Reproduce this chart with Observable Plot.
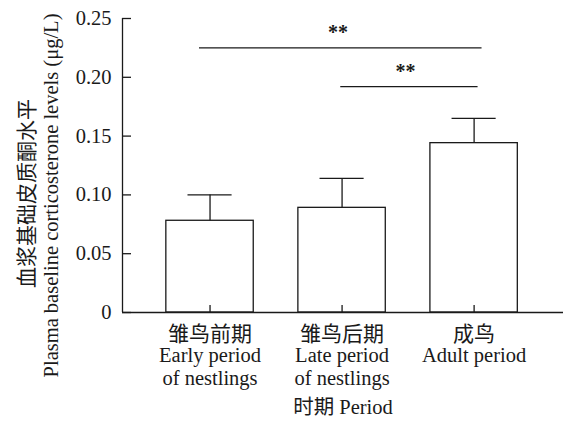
<!DOCTYPE html>
<html>
<head>
<meta charset="utf-8">
<script src="https://cdn.jsdelivr.net/npm/d3@7"></script>
<script src="https://cdn.jsdelivr.net/npm/@observablehq/plot@0.6"></script>
<style>
  html, body { margin: 0; padding: 0; background: #fff; }
</style>
</head>
<body>
<div id="chart"></div>
<script>
// Data
const categoriesZh = ["雏鸟前期", "雏鸟后期", "成鸟"];
const categoriesEn = ["Early period\nof nestlings", "Late period\nof nestlings", "Adult period"];
const categoryPos = [1, 2, 3];
const means = [0.078, 0.089, 0.144];
const upperErr = [0.100, 0.114, 0.165];
const yTicks = [0, 0.05, 0.10, 0.15, 0.20, 0.25];

// significance brackets
const sigFrom = [0.92, 1.99];
const sigTo = [3.06, 3.03];
const sigLevel = [0.225, 0.192];
const sigMid = [1.97, 2.48];
const sigText = ["**", "**"];

const bars = categoryPos.map((p, i) => ({pos: p, zh: categoriesZh[i], en: categoriesEn[i], mean: means[i], upper: upperErr[i]}));
const sig = sigFrom.map((f, i) => ({from: f, to: sigTo[i], level: sigLevel[i], mid: sigMid[i], text: sigText[i]}));

const xDomain = [0.337, 3.677];
const barHalf = 0.331;
const capHalf = 0.167;
const ink = "#1a1a1a";
const zhFont = "'Noto Sans CJK SC', sans-serif";

const chart = Plot.plot({
  width: 572,
  height: 425,
  marginLeft: 122,
  marginRight: 9,
  marginTop: 18,
  marginBottom: 113,
  style: {fontFamily: "'Liberation Serif', 'Noto Sans CJK SC', serif", fontSize: "20px", color: ink, background: "#fff"},
  x: {domain: xDomain, axis: null},
  y: {domain: [0, 0.25], axis: null},
  marks: [
    Plot.rectY(bars, {x1: d => d.pos - barHalf, x2: d => d.pos + barHalf, y1: 0, y2: "mean", fill: "white", stroke: ink, strokeWidth: 1.3}),
    Plot.ruleX(bars, {x: "pos", y1: "mean", y2: "upper", stroke: ink, strokeWidth: 1.3}),
    Plot.ruleY(bars, {y: "upper", x1: d => d.pos - capHalf, x2: d => d.pos + capHalf, stroke: ink, strokeWidth: 1.3}),
    Plot.ruleY(sig, {y: "level", x1: "from", x2: "to", stroke: ink, strokeWidth: 1.3}),
    Plot.text(sig, {x: "mid", y: "level", text: "text", lineAnchor: "bottom", dy: -8.5, fontWeight: "bold", fontSize: 20, fill: ink}),
    Plot.ruleY([0], {stroke: ink, strokeWidth: 1.3}),
    Plot.ruleX([xDomain[0]], {stroke: ink, strokeWidth: 1.3}),
    Plot.axisY({ticks: yTicks, tickSize: -9, tickPadding: 20, tickFormat: d => d === 0 ? "0" : d3.format(".2f")(d), fontSize: 20.5, stroke: ink, fill: ink, strokeWidth: 1.3}),
    Plot.axisX({ticks: categoryPos, tickSize: -7, tickFormat: () => "", stroke: ink, strokeWidth: 1.3}),
    Plot.text(bars, {x: "pos", text: "zh", frameAnchor: "bottom", dy: 21.3, lineAnchor: "middle", textAnchor: "middle", fontSize: 21, fontFamily: zhFont, fill: ink}),
    Plot.text(bars, {x: "pos", text: "en", frameAnchor: "bottom", dy: 33, lineAnchor: "top", textAnchor: "middle", lineHeight: 1.14, fontSize: 20.5, fill: ink}),
    Plot.text(["时期 Period"], {frameAnchor: "bottom", dy: 101.7, lineAnchor: "bottom", textAnchor: "middle", fontSize: 20.5, fill: ink}),
    Plot.text(["血浆基础皮质酮水平"], {frameAnchor: "left", dx: -95, dy: 28, rotate: -90, lineAnchor: "middle", textAnchor: "middle", fontSize: 21, fontFamily: zhFont, fill: ink}),
    Plot.text(["Plasma baseline corticosterone levels (μg/L)"], {frameAnchor: "left", dx: -71, dy: 30, rotate: -90, lineAnchor: "middle", textAnchor: "middle", fontSize: 20.5, fill: ink})
  ]
});
document.getElementById("chart").appendChild(chart);
</script>
</body>
</html>
